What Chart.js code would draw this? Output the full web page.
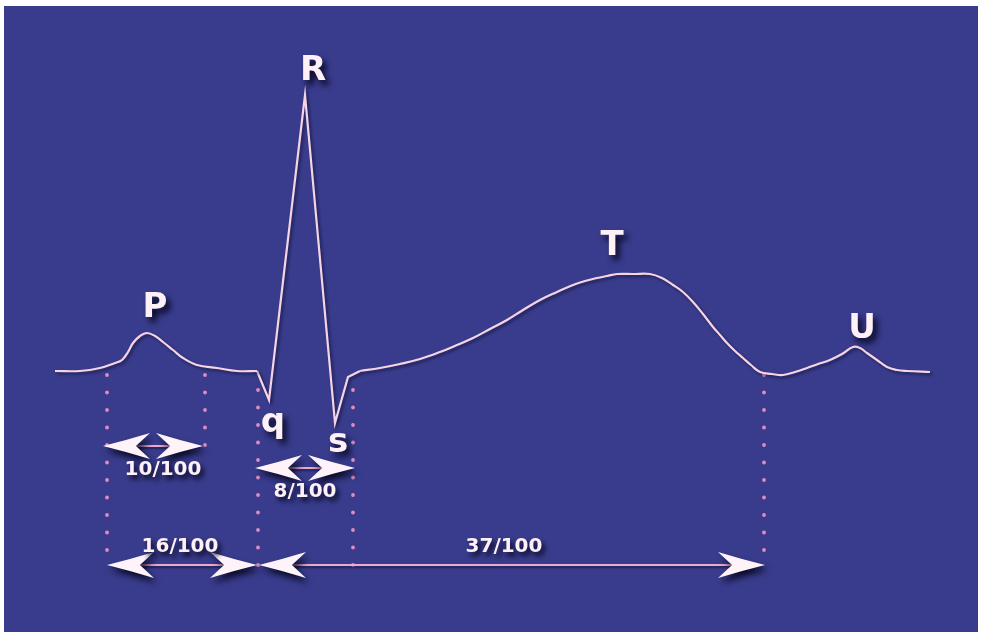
<!DOCTYPE html>
<html>
<head>
<meta charset="utf-8">
<script src="https://cdn.jsdelivr.net/npm/chart.js@4.4.1/dist/chart.umd.min.js"></script>
<style>
  html, body { margin: 0; padding: 0; background: #ffffff; }
  #wrap { width: 985px; height: 632px; }
</style>
</head>
<body>
<div id="wrap"><canvas id="c" width="985" height="632"></canvas></div>
<script>
// ECG trace: time (arbitrary units) and amplitude (baseline = 0)
const ecgTime = [0.55, 0.80, 1.00, 1.15, 1.22, 1.28, 1.33, 1.40, 1.47, 1.55, 1.63, 1.73, 1.83, 1.97, 2.17, 2.37, 2.57,
  2.69, 3.05, 3.35, 3.48, 3.60, 3.80, 4.00, 4.20, 4.40, 4.57, 4.73, 4.90, 5.07, 5.23, 5.40, 5.57, 5.73, 5.85, 5.97,
  6.07, 6.17, 6.33, 6.50, 6.62, 6.73, 6.83, 6.93, 7.03, 7.13, 7.20, 7.27, 7.35, 7.43, 7.51, 7.60, 7.72, 7.83, 7.95,
  8.07, 8.18, 8.30, 8.42, 8.53, 8.60, 8.67, 8.77, 8.87, 8.97, 9.07, 9.30];
const ecgAmplitude = [0, 0, 0.03, 0.08, 0.11, 0.19, 0.28, 0.35, 0.38, 0.35, 0.29, 0.21, 0.13, 0.06, 0.03, 0, 0,
  -0.29, 2.76, -0.52, -0.06, 0, 0.03, 0.07, 0.12, 0.19, 0.26, 0.33, 0.42, 0.51, 0.61, 0.71, 0.79, 0.86, 0.90, 0.93,
  0.95, 0.97, 0.97, 0.97, 0.93, 0.86, 0.79, 0.69, 0.57, 0.44, 0.36, 0.28, 0.20, 0.13, 0.06, -0.01, -0.03, -0.04, -0.01,
  0.03, 0.07, 0.11, 0.17, 0.24, 0.23, 0.18, 0.11, 0.04, 0.01, 0, -0.01];
// QRS complex (straight strokes) spans these indices of the trace
const qrsStart = 16, qrsEnd = 21;

// Wave names and where they are written
const waveNames = ['P', 'q', 'R', 's', 'T', 'U'];
const waveLabelTime = [1.55, 2.73, 3.13, 3.38, 6.12, 8.62];
const waveLabelAmp = [0.54, -0.61, 2.91, -0.81, 1.16, 0.33];

// Interval boundaries (dotted guides)
const boundaryTime = [1.07, 2.05, 2.58, 3.53, 7.64];
const boundaryTop = [-0.04, -0.04, -0.19, -0.19, -0.04];
const boundaryBottom = [-1.94, -0.74, -1.94, -1.94, -1.94];

// Durations (arrows)
const intervalLabels = ['10/100', '8/100', '16/100', '37/100'];
const intervalStart = [1.03, 2.55, 1.07, 2.59];
const intervalEnd = [2.03, 3.55, 2.57, 7.65];
const intervalLevel = [-0.75, -0.97, -1.94, -1.94];
const intervalLabelTime = [1.63, 3.05, 1.80, 5.04];
const intervalLabelAmp = [-1.04, -1.26, -1.81, -1.81];

const points = ecgTime.map((t, i) => ({ x: t, y: ecgAmplitude[i] }));
const segA = points.slice(0, qrsStart + 1);
const segQRS = points.slice(qrsStart, qrsEnd + 1);
const segB = points.slice(qrsEnd);

function arrowHead(ctx, tx, y, dir) {
  const L = 47, Hh = 13, n = 0.7;
  ctx.beginPath();
  ctx.moveTo(tx, y);
  ctx.quadraticCurveTo(tx - dir * L * 0.5, y - Hh * 0.45, tx - dir * L, y - Hh);
  ctx.lineTo(tx - dir * L * n, y);
  ctx.lineTo(tx - dir * L, y + Hh);
  ctx.quadraticCurveTo(tx - dir * L * 0.5, y + Hh * 0.45, tx, y);
  ctx.closePath();
  ctx.fill();
}

function shadow(ctx, c, b, ox, oy) {
  ctx.shadowColor = c; ctx.shadowBlur = b; ctx.shadowOffsetX = ox; ctx.shadowOffsetY = oy;
}

const ecgDecor = {
  id: 'ecgDecor',
  beforeDraw(chart) {
    const { ctx, width, height } = chart;
    ctx.save();
    ctx.fillStyle = '#ffffff';
    ctx.fillRect(0, 0, width, height);
    ctx.fillStyle = '#393c8c';
    ctx.fillRect(4, 6, 974, 626);
    ctx.restore();
  },
  beforeDatasetsDraw(chart) {
    const ctx = chart.ctx, xs = chart.scales.x, ys = chart.scales.y;
    // dotted guides
    ctx.save();
    ctx.fillStyle = '#e08cc0';
    boundaryTime.forEach((t, i) => {
      const px = xs.getPixelForValue(t);
      const top = ys.getPixelForValue(boundaryTop[i]);
      const bot = ys.getPixelForValue(boundaryBottom[i]);
      for (let y = top; y <= bot + 0.5; y += 17.5) {
        ctx.beginPath(); ctx.arc(px, y, 1.9, 0, Math.PI * 2); ctx.fill();
      }
    });
    ctx.restore();
    // arrow shafts
    ctx.save();
    ctx.strokeStyle = '#eeaacc';
    ctx.lineWidth = 2;
    shadow(ctx, 'rgba(10,10,40,0.5)', 2, 1, 2);
    intervalLabels.forEach((lab, i) => {
      const y = ys.getPixelForValue(intervalLevel[i]);
      ctx.beginPath();
      ctx.moveTo(xs.getPixelForValue(intervalStart[i]) + 4, y);
      ctx.lineTo(xs.getPixelForValue(intervalEnd[i]) - 4, y);
      ctx.stroke();
    });
    ctx.restore();
    // arrow heads
    ctx.save();
    ctx.fillStyle = '#fdf3f8';
    shadow(ctx, 'rgba(5,5,30,0.9)', 6, 3, 5);
    intervalLabels.forEach((lab, i) => {
      const y = ys.getPixelForValue(intervalLevel[i]);
      arrowHead(ctx, xs.getPixelForValue(intervalStart[i]), y, -1);
      arrowHead(ctx, xs.getPixelForValue(intervalEnd[i]), y, 1);
    });
    ctx.restore();
    // shadow for the trace
    ctx.save();
    shadow(ctx, 'rgba(10,10,40,0.6)', 3, 2, 2);
  },
  afterDatasetsDraw(chart) {
    const ctx = chart.ctx, xs = chart.scales.x, ys = chart.scales.y;
    ctx.restore();
    ctx.save();
    ctx.fillStyle = '#fdf0f6';
    ctx.textAlign = 'center';
    ctx.textBaseline = 'alphabetic';
    shadow(ctx, 'rgba(5,5,30,0.95)', 6, 4, 5);
    ctx.font = 'bold 34px "DejaVu Sans"';
    waveNames.forEach((n, i) => {
      ctx.fillText(n, xs.getPixelForValue(waveLabelTime[i]), ys.getPixelForValue(waveLabelAmp[i]));
    });
    ctx.font = 'bold 20px "DejaVu Sans"';
    shadow(ctx, 'rgba(5,5,30,0.95)', 5, 3, 4);
    intervalLabels.forEach((lab, i) => {
      ctx.fillText(lab, xs.getPixelForValue(intervalLabelTime[i]), ys.getPixelForValue(intervalLabelAmp[i]));
    });
    ctx.restore();
  }
};

const lineStyle = { borderColor: '#f6d4e6', borderWidth: 2.2, pointRadius: 0, fill: false };

new Chart(document.getElementById('c'), {
  type: 'line',
  data: {
    datasets: [
      Object.assign({ data: segA, tension: 0.4 }, lineStyle),
      Object.assign({ data: segQRS, tension: 0 }, lineStyle),
      Object.assign({ data: segB, tension: 0.4 }, lineStyle)
    ]
  },
  options: {
    responsive: false,
    animation: false,
    devicePixelRatio: 1,
    layout: { padding: 0 },
    plugins: { legend: { display: false }, tooltip: { enabled: false } },
    scales: {
      x: { type: 'linear', min: 0, max: 9.85, display: false },
      y: { type: 'linear', min: -2.61, max: 3.71, display: false }
    }
  },
  plugins: [ecgDecor]
});
</script>
</body>
</html>
